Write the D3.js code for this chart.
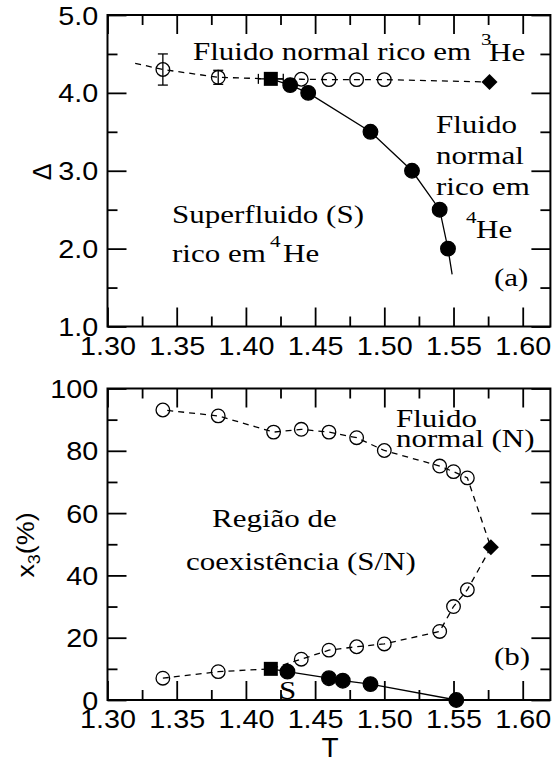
<!DOCTYPE html>
<html>
<head>
<meta charset="utf-8">
<script src="https://cdn.jsdelivr.net/npm/d3@7"></script>
<style>
body { margin: 0; background: #fff; }
</style>
</head>
<body>
<div id="chart"></div>
<script>
// ---- panel (a): Delta vs T ----
var dashT_a = [1.32, 1.34, 1.38, 1.418, 1.44, 1.46, 1.48, 1.50, 1.576];
var dashD_a = [4.38, 4.30, 4.20, 4.18, 4.175, 4.17, 4.17, 4.17, 4.14];
var openT_a = [1.34, 1.38, 1.44, 1.46, 1.48, 1.50];
var openD_a = [4.30, 4.20, 4.175, 4.17, 4.17, 4.17];
var openErr_a = [0.2, 0.09, 0, 0, 0, 0];
var solidT_a = [1.418, 1.432, 1.445, 1.49, 1.52, 1.54, 1.546, 1.549];
var solidD_a = [4.18, 4.10, 4.00, 3.50, 3.00, 2.50, 2.00, 1.67];
var filledT_a = [1.432, 1.445, 1.49, 1.52, 1.54, 1.546];
var filledD_a = [4.10, 4.00, 3.50, 3.00, 2.50, 2.00];
var squareA = [1.418, 4.18], squareErrT = 0.009;
var diamondA = [1.576, 4.14];

// ---- panel (b): x3 vs T ----
var dashT_b = [1.34, 1.38, 1.418, 1.44, 1.46, 1.48, 1.50, 1.54, 1.55, 1.56, 1.577,
               1.56, 1.55, 1.54, 1.50, 1.48, 1.46, 1.44, 1.42, 1.38, 1.34];
var dashX_b = [7.0, 9.1, 10, 13.1, 16.0, 17.1, 18.0, 22.0, 30.0, 35.4, 49,
               71.3, 73.3, 75.1, 80.1, 84.2, 86.0, 86.9, 86.0, 91.2, 93.1];
var openT_b = [1.34, 1.38, 1.44, 1.46, 1.48, 1.50, 1.54, 1.55, 1.56,
               1.56, 1.55, 1.54, 1.50, 1.48, 1.46, 1.44, 1.42, 1.38, 1.34];
var openX_b = [7.0, 9.1, 13.1, 16.0, 17.1, 18.0, 22.0, 30.0, 35.4,
               71.3, 73.3, 75.1, 80.1, 84.2, 86.0, 86.9, 86.0, 91.2, 93.1];
var solidT_b = [1.418, 1.43, 1.46, 1.47, 1.49, 1.552];
var solidX_b = [10, 9.1, 7.0, 6.2, 5.1, 0];
var squareB = [1.418, 10];
var diamondB = [1.577, 49];

// ticks
var xTicks = [1.30, 1.35, 1.40, 1.45, 1.50, 1.55, 1.60];
var xTickLabels = ["1.30", "1.35", "1.40", "1.45", "1.50", "1.55", "1.60"];
var xMinor = [1.325, 1.375, 1.425, 1.475, 1.525, 1.575];
var yTicksA = [1, 2, 3, 4, 5];
var yTickLabelsA = ["1.0", "2.0", "3.0", "4.0", "5.0"];
var yMinorA = [1.5, 2.5, 3.5, 4.5];
var yTicksB = [0, 20, 40, 60, 80, 100];
var yTickLabelsB = ["0", "20", "40", "60", "80", "100"];
var yMinorB = [10, 30, 50, 70, 90];

var W = 552, H = 763;
var sans = "'Liberation Sans', Arial, sans-serif";
var serif = "'Liberation Serif', 'Times New Roman', serif";

var svg = d3.select("#chart").append("svg")
    .attr("width", W).attr("height", H);

var x = d3.scaleLinear().domain([1.30, 1.62]).range([107.5, 550.4]);
var yA = d3.scaleLinear().domain([1, 5]).range([326.5, 15]);
var yB = d3.scaleLinear().domain([0, 100]).range([700, 388.5]);

function drawAxes(y, yTicks, yLabels, yMinor) {
    var g = svg.append("g");
    var x0 = x.range()[0], x1 = x.range()[1];
    var yb = y.range()[0], yt = y.range()[1];

    function styleAx(a) {
        a.select(".domain").remove();
        a.selectAll("line").attr("stroke", "#000").attr("stroke-width", 1.8);
    }
    // major
    var b = g.append("g").attr("transform", "translate(0," + yb + ")")
        .call(d3.axisBottom(x).tickValues(xTicks).tickSize(-19).tickSizeOuter(0)
            .tickFormat(function(d) { return xTickLabels[xTicks.indexOf(d)]; }));
    b.selectAll("text").attr("y", 28.5).attr("dy", null)
        .attr("font-family", sans).attr("font-size", 25).attr("fill", "#000")
        .attr("transform", "scale(1.15,1)");
    styleAx(b);
    styleAx(g.append("g").attr("transform", "translate(0," + yt + ")")
        .call(d3.axisTop(x).tickValues(xTicks).tickSize(-19).tickSizeOuter(0).tickFormat("")));
    var l = g.append("g").attr("transform", "translate(" + x0 + ",0)")
        .call(d3.axisLeft(y).tickValues(yTicks).tickSize(-19).tickSizeOuter(0).tickPadding(8)
            .tickFormat(function(d) { return yLabels[yTicks.indexOf(d)]; }));
    l.selectAll("text").attr("dy", "0.36em")
        .attr("font-family", sans).attr("font-size", 25).attr("fill", "#000")
        .attr("transform", "scale(1.15,1)");
    styleAx(l);
    styleAx(g.append("g").attr("transform", "translate(" + x1 + ",0)")
        .call(d3.axisRight(y).tickValues(yTicks).tickSize(-19).tickSizeOuter(0).tickFormat("")));
    // minor
    styleAx(g.append("g").attr("transform", "translate(0," + yb + ")")
        .call(d3.axisBottom(x).tickValues(xMinor).tickSize(-10).tickSizeOuter(0).tickFormat("")));
    styleAx(g.append("g").attr("transform", "translate(0," + yt + ")")
        .call(d3.axisTop(x).tickValues(xMinor).tickSize(-10).tickSizeOuter(0).tickFormat("")));
    styleAx(g.append("g").attr("transform", "translate(" + x0 + ",0)")
        .call(d3.axisLeft(y).tickValues(yMinor).tickSize(-10).tickSizeOuter(0).tickFormat("")));
    styleAx(g.append("g").attr("transform", "translate(" + x1 + ",0)")
        .call(d3.axisRight(y).tickValues(yMinor).tickSize(-10).tickSizeOuter(0).tickFormat("")));
    // frame
    g.append("rect").attr("x", x0).attr("y", yt)
        .attr("width", x1 - x0).attr("height", yb - yt)
        .attr("fill", "none").attr("stroke", "#000").attr("stroke-width", 2);
}

drawAxes(yA, yTicksA, yTickLabelsA, yMinorA);
drawAxes(yB, yTicksB, yTickLabelsB, yMinorB);

function pairs(ts, vs) { return ts.map(function(t, i) { return [t, vs[i]]; }); }

function drawLine(y, ts, vs, dashed) {
    var line = d3.line().x(function(d) { return x(d[0]); }).y(function(d) { return y(d[1]); });
    svg.append("path").datum(pairs(ts, vs))
        .attr("d", line).attr("fill", "none").attr("stroke", "#000")
        .attr("stroke-width", 1.3)
        .attr("stroke-dasharray", dashed ? "6,5" : null);
}

function drawCircles(y, ts, vs, filled) {
    svg.append("g").selectAll("circle").data(pairs(ts, vs)).enter()
        .append("circle")
        .attr("cx", function(d) { return x(d[0]); })
        .attr("cy", function(d) { return y(d[1]); })
        .attr("r", filled ? 7.3 : 6.8)
        .attr("fill", filled ? "#000" : "none")
        .attr("stroke", "#000").attr("stroke-width", 1.3);
}

function drawSquare(y, p) {
    svg.append("rect").attr("x", x(p[0]) - 7).attr("y", y(p[1]) - 7)
        .attr("width", 14).attr("height", 14).attr("fill", "#000");
}

function drawDiamond(y, p) {
    svg.append("path")
        .attr("d", "M0,-8L8,0L0,8L-8,0Z")
        .attr("transform", "translate(" + x(p[0]) + "," + y(p[1]) + ")")
        .attr("fill", "#000");
}

// panel (a) data
drawLine(yA, dashT_a, dashD_a, true);
drawLine(yA, solidT_a, solidD_a, false);
// error bars
var eb = svg.append("g").attr("stroke", "#000").attr("stroke-width", 1.3);
openT_a.forEach(function(t, i) {
    var e = openErr_a[i];
    if (!e) return;
    var cx = x(t), y1 = yA(openD_a[i] + e), y2 = yA(openD_a[i] - e);
    eb.append("line").attr("x1", cx).attr("x2", cx).attr("y1", y1).attr("y2", y2);
    eb.append("line").attr("x1", cx - 5).attr("x2", cx + 5).attr("y1", y1).attr("y2", y1);
    eb.append("line").attr("x1", cx - 5).attr("x2", cx + 5).attr("y1", y2).attr("y2", y2);
});
(function() {
    var xl = x(squareA[0] - squareErrT), xr = x(squareA[0] + squareErrT), cy = yA(squareA[1]);
    eb.append("line").attr("x1", xl).attr("x2", xr).attr("y1", cy).attr("y2", cy);
    eb.append("line").attr("x1", xl).attr("x2", xl).attr("y1", cy - 5).attr("y2", cy + 5);
    eb.append("line").attr("x1", xr).attr("x2", xr).attr("y1", cy - 5).attr("y2", cy + 5);
})();
drawCircles(yA, openT_a, openD_a, false);
drawCircles(yA, filledT_a, filledD_a, true);
drawSquare(yA, squareA);
drawDiamond(yA, diamondA);

// panel (b) data
drawLine(yB, dashT_b, dashX_b, true);
drawLine(yB, solidT_b, solidX_b, false);
drawCircles(yB, openT_b, openX_b, false);
drawCircles(yB, solidT_b.slice(1), solidX_b.slice(1), true);
drawSquare(yB, squareB);
drawDiamond(yB, diamondB);

// annotations
function label(px, py, str, size, font) {
    return svg.append("text")
        .attr("transform", "translate(" + px + "," + py + ") scale(1.24,1)")
        .attr("font-family", font || serif).attr("font-size", size || 25)
        .attr("fill", "#000").text(str);
}
label(193, 60, "Fluido normal rico em");
label(481, 45, "3", 17);
label(489, 61, "He");
label(436, 133, "Fluido");
label(436, 164, "normal");
label(436, 195, "rico em");
label(466, 223, "4", 17);
label(476, 238, "He");
label(172, 223, "Superfluido (S)");
label(172, 262, "rico em");
label(270, 247, "4", 17);
label(283, 262, "He");
label(494, 286, "(a)");

label(396, 427, "Fluido");
label(396, 447, "normal (N)");
label(212, 527, "Região de");
label(186, 570, "coexistência (S/N)");
label(494, 665, "(b)");
label(279, 699, "S");

// axis titles
svg.append("text")
    .attr("transform", "translate(42,172) rotate(-90)")
    .attr("text-anchor", "middle").attr("dy", "0.36em")
    .attr("font-family", sans).attr("font-size", 25).text("Δ");
var yt = svg.append("text")
    .attr("transform", "translate(34,545) rotate(-90) scale(1.12,1)")
    .attr("text-anchor", "middle")
    .attr("font-family", sans).attr("font-size", 24);
yt.append("tspan").text("x");
yt.append("tspan").attr("font-size", 16).attr("dy", 6).text("3");
yt.append("tspan").attr("dy", -6).text("(%)");
svg.append("text")
    .attr("x", 330).attr("y", 757).attr("text-anchor", "middle")
    .attr("font-family", sans).attr("font-size", 28).text("T");
</script>
</body>
</html>
